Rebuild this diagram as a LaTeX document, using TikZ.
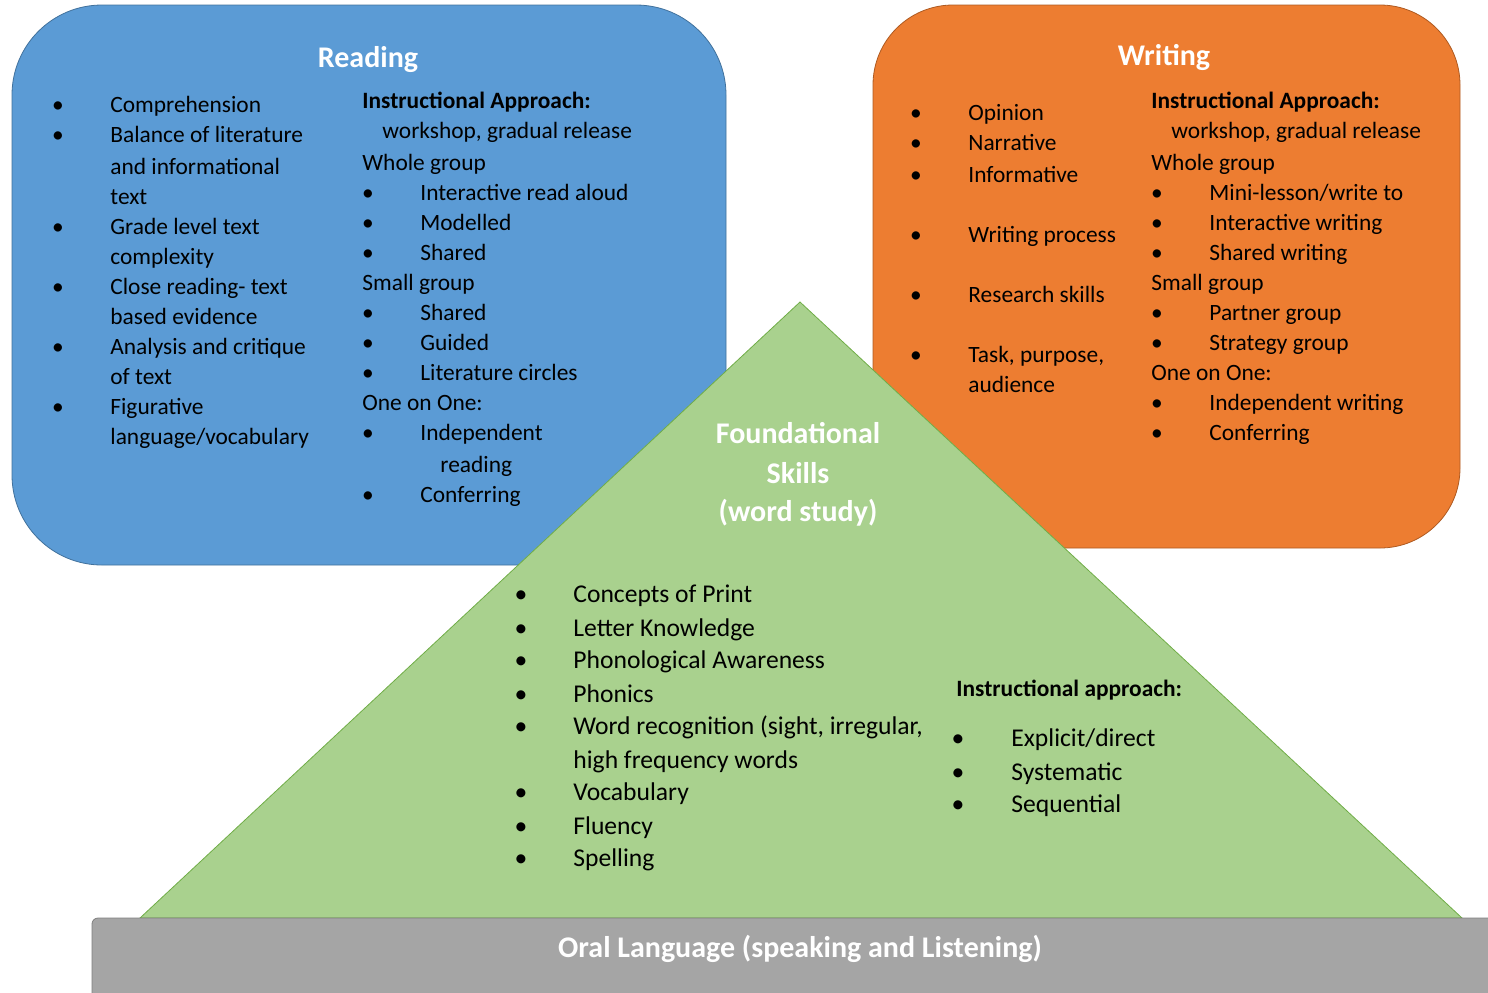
\documentclass[tikz,border=0pt]{standalone}
\usepackage{fontspec}
\setmainfont{Carlito}
\definecolor{readblue}{HTML}{5B9BD5}
\definecolor{readline}{HTML}{41719C}
\definecolor{writeorange}{HTML}{ED7D31}
\definecolor{writeline}{HTML}{AE5A21}
\definecolor{skillgreen}{HTML}{A9D18E}
\definecolor{skillline}{HTML}{70AD47}
\definecolor{oralgray}{HTML}{A5A5A5}
\definecolor{oralline}{HTML}{7F7F7F}
\tikzset{
  item/.style={anchor=west, inner sep=0pt, text height=0.7em, text depth=0pt,
    font=\fontsize{11.7}{14}\selectfont},
  head/.style={item, font=\fontsize{11.7}{14}\selectfont\bfseries},
  dot/.style={inner sep=0pt, text height=0.7em, text depth=0pt,
    font=\fontsize{11.7}{14}\selectfont},
  fitem/.style={item, font=\fontsize{12.8}{15}\selectfont},
  fdot/.style={dot, font=\fontsize{12.8}{15}\selectfont},
  title/.style={inner sep=0pt, text height=0.7em, text depth=0pt, text=white,
    font=\fontsize{15}{18}\selectfont\bfseries}
}
\begin{document}
\begin{tikzpicture}[x=0.5pt,y=-0.5pt]
  \useasboundingbox (0,0) rectangle (1488,992);
  \clip (0,0) rectangle (1488,992);
  % the three blocks and the base
  \draw[readline, fill=readblue, rounded corners=45pt] (12,5) rectangle (726,565);
  \draw[writeline, fill=writeorange, rounded corners=40pt] (873,5) rectangle (1460,548);
  \draw[skillline, fill=skillgreen] (800,302) -- (1462,918) -- (140,918) -- cycle;
  \draw[oralline, fill=oralgray, rounded corners=3pt] (92,918) rectangle (1510,1010);

  % Reading
  \node[title] (read) at (368,60) {Reading};
  \node[dot] (rb1) at (58,105) {•};  \node[item] (r1) at (110,105) {Comprehension};
  \node[dot] (rb2) at (58,135) {•};  \node[item] (r2) at (110,135) {Balance of literature};
  \node[item] (r2b) at (110,167) {and informational};
  \node[item] (r2c) at (110,197) {text};
  \node[dot] (rb3) at (58,227) {•};  \node[item] (r3) at (110,227) {Grade level text};
  \node[item] (r3b) at (110,257) {complexity};
  \node[dot] (rb4) at (58,287) {•};  \node[item] (r4) at (110,287) {Close reading- text};
  \node[item] (r4b) at (110,317) {based evidence};
  \node[dot] (rb5) at (58,347) {•};  \node[item] (r5) at (110,347) {Analysis and critique};
  \node[item] (r5b) at (110,377) {of text};
  \node[dot] (rb6) at (58,407) {•};  \node[item] (r6) at (110,407) {Figurative};
  \node[item] (r6b) at (110,437) {language/vocabulary};

  \node[head] (rhead) at (362,101) {Instructional Approach:};
  \node[item] (rway) at (382,131) {workshop, gradual release};
  \node[item] (rwhole) at (362,163) {Whole group};
  \node[dot] (rwb1) at (368,193) {•};  \node[item] (rw1) at (420,193) {Interactive read aloud};
  \node[dot] (rwb2) at (368,223) {•};  \node[item] (rw2) at (420,223) {Modelled};
  \node[dot] (rwb3) at (368,253) {•};  \node[item] (rw3) at (420,253) {Shared};
  \node[item] (rsmall) at (362,283) {Small group};
  \node[dot] (rsb1) at (368,313) {•};  \node[item] (rs1) at (420,313) {Shared};
  \node[dot] (rsb2) at (368,343) {•};  \node[item] (rs2) at (420,343) {Guided};
  \node[dot] (rsb3) at (368,373) {•};  \node[item] (rs3) at (420,373) {Literature circles};
  \node[item] (rone) at (362,403) {One on One:};
  \node[dot] (rob1) at (368,433) {•};  \node[item] (ro1) at (420,433) {Independent};
  \node[item] (ro1b) at (440,465) {reading};
  \node[dot] (rob2) at (368,495) {•};  \node[item] (ro2) at (420,495) {Conferring};

  % Writing
  \node[title] (write) at (1164,58) {Writing};
  \node[dot] (wb1) at (916,113) {•};  \node[item] (w1) at (968,113) {Opinion};
  \node[dot] (wb2) at (916,143) {•};  \node[item] (w2) at (968,143) {Narrative};
  \node[dot] (wb3) at (916,175) {•};  \node[item] (w3) at (968,175) {Informative};
  \node[dot] (wb4) at (916,235) {•};  \node[item] (w4) at (968,235) {Writing process};
  \node[dot] (wb5) at (916,295) {•};  \node[item] (w5) at (968,295) {Research skills};
  \node[dot] (wb6) at (916,355) {•};  \node[item] (w6) at (968,355) {Task, purpose,};
  \node[item] (w6b) at (968,385) {audience};

  \node[head] (whead) at (1151,101) {Instructional Approach:};
  \node[item] (wway) at (1171,131) {workshop, gradual release};
  \node[item] (wwhole) at (1151,163) {Whole group};
  \node[dot] (wwb1) at (1157,193) {•};  \node[item] (ww1) at (1209,193) {Mini-lesson/write to};
  \node[dot] (wwb2) at (1157,223) {•};  \node[item] (ww2) at (1209,223) {Interactive writing};
  \node[dot] (wwb3) at (1157,253) {•};  \node[item] (ww3) at (1209,253) {Shared writing};
  \node[item] (wsmall) at (1151,283) {Small group};
  \node[dot] (wsb1) at (1157,313) {•};  \node[item] (ws1) at (1209,313) {Partner group};
  \node[dot] (wsb2) at (1157,343) {•};  \node[item] (ws2) at (1209,343) {Strategy group};
  \node[item] (wone) at (1151,373) {One on One:};
  \node[dot] (wob1) at (1157,403) {•};  \node[item] (wo1) at (1209,403) {Independent writing};
  \node[dot] (wob2) at (1157,433) {•};  \node[item] (wo2) at (1209,433) {Conferring};

  % Foundational skills
  \node[title] (found1) at (798,436) {Foundational};
  \node[title] (found2) at (798,476) {Skills};
  \node[title] (found3) at (798,514) {(word study)};
  \node[fdot] (fb1) at (521,595) {•};  \node[fitem] (f1) at (573,595) {Concepts of Print};
  \node[fdot] (fb2) at (521,629) {•};  \node[fitem] (f2) at (573,629) {Letter Knowledge};
  \node[fdot] (fb3) at (521,661) {•};  \node[fitem] (f3) at (573,661) {Phonological Awareness};
  \node[fdot] (fb4) at (521,695) {•};  \node[fitem] (f4) at (573,695) {Phonics};
  \node[fdot] (fb5) at (521,727) {•};  \node[fitem] (f5) at (573,727) {Word recognition (sight, irregular,};
  \node[fitem] (f5b) at (573,761) {high frequency words};
  \node[fdot] (fb6) at (521,793) {•};  \node[fitem] (f6) at (573,793) {Vocabulary};
  \node[fdot] (fb7) at (521,827) {•};  \node[fitem] (f7) at (573,827) {Fluency};
  \node[fdot] (fb8) at (521,859) {•};  \node[fitem] (f8) at (573,859) {Spelling};

  \node[head] (fhead) at (956,689) {Instructional approach:};
  \node[fdot] (fab1) at (958,739) {•};  \node[fitem] (fa1) at (1011,739) {Explicit/direct};
  \node[fdot] (fab2) at (958,773) {•};  \node[fitem] (fa2) at (1011,773) {Systematic};
  \node[fdot] (fab3) at (958,805) {•};  \node[fitem] (fa3) at (1011,805) {Sequential};

  % Oral language
  \node[title] (oral) at (800,950) {Oral Language (speaking and Listening)};
\end{tikzpicture}
\end{document}
